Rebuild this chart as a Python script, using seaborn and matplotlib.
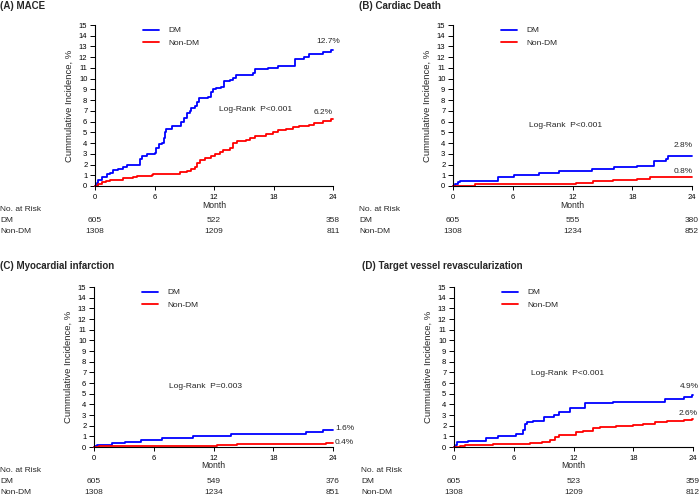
import matplotlib
matplotlib.use('Agg')
import matplotlib.pyplot as plt
import matplotlib.transforms as mtransforms
import pandas as pd
import seaborn as sns

# --- data ---------------------------------------------------------------
groups = ['DM', 'Non-DM']
risk_months = [0, 12, 24]

mace_dm_month = [0, 0.17, 0.34, 0.67, 1.17, 1.5, 1.85, 2.35, 2.85, 3.19, 4.53, 4.70, 5.2, 6.04, 6.2, 6.48,
                 6.8, 6.98, 7.1, 7.2, 7.8, 8.72, 9.0, 9.23, 9.56, 9.73, 10.07, 10.3, 10.5, 11.4, 11.7, 11.9,
                 12.2, 12.75, 12.99, 13.6, 13.9, 14.2, 15.9, 16.1, 17.45, 18.46, 20.2, 21.1, 21.6, 23.0, 23.8, 24]
mace_dm_pct = [0, 0.3, 0.6, 0.8, 1.1, 1.2, 1.5, 1.6, 1.8, 2.0, 2.5, 2.8, 3.0, 3.1, 3.5, 3.9,
               4.0, 4.5, 5.0, 5.3, 5.6, 6.0, 6.3, 6.8, 7.0, 7.3, 7.5, 7.8, 8.2, 8.3, 8.8, 9.0,
               9.1, 9.2, 9.8, 9.9, 10.1, 10.3, 10.5, 10.9, 11.0, 11.2, 11.8, 12.0, 12.3, 12.5, 12.7, 12.7]
mace_non_month = [0, 0.34, 0.67, 1.1, 1.5, 2.2, 2.85, 3.86, 4.2, 5.7, 5.87, 8.2, 8.56, 9.23, 9.73, 10.07,
                  10.3, 10.57, 11.07, 11.74, 12.08, 12.58, 12.92, 13.6, 13.93, 14.33, 15.27, 15.6, 16.1,
                  17.28, 17.95, 18.46, 19.3, 19.97, 20.6, 21.6, 22.1, 23.0, 23.8, 24]
mace_non_pct = [0, 0.2, 0.4, 0.5, 0.55, 0.6, 0.7, 0.8, 0.9, 1.0, 1.1, 1.15, 1.3, 1.4, 1.6, 1.8,
                2.1, 2.4, 2.6, 2.8, 3.0, 3.2, 3.4, 3.5, 4.0, 4.2, 4.3, 4.5, 4.7,
                4.8, 5.0, 5.2, 5.3, 5.5, 5.6, 5.7, 5.9, 6.1, 6.2, 6.2]

cd_dm_month = [0, 0.17, 0.5, 0.67, 4.53, 6.1, 8.6, 10.6, 14.0, 16.2, 18.5, 20.2, 21.4, 21.6, 24]
cd_dm_pct = [0, 0.2, 0.4, 0.5, 0.8, 1.0, 1.2, 1.4, 1.55, 1.75, 1.9, 2.3, 2.5, 2.8, 2.8]
cd_non_month = [0, 2.2, 12.4, 14.1, 14.5, 16.1, 17.8, 18.5, 19.8, 24]
cd_non_pct = [0, 0.2, 0.3, 0.45, 0.5, 0.55, 0.6, 0.65, 0.8, 0.8]

mi_dm_month = [0, 0.1, 0.3, 1.8, 3.16, 4.67, 6.86, 9.9, 13.75, 21.3, 23.0, 24]
mi_dm_pct = [0, 0.05, 0.15, 0.35, 0.5, 0.7, 0.85, 1.0, 1.2, 1.4, 1.6, 1.6]
mi_non_month = [0, 0.5, 12.4, 14.4, 16.3, 23.3, 24]
mi_non_pct = [0, 0.05, 0.15, 0.25, 0.3, 0.4, 0.4]

tvr_dm_month = [0, 0.17, 0.34, 1.4, 3.2, 4.43, 6.2, 6.9, 7.1, 7.3, 7.9, 9.0, 10.0, 10.5, 11.6,
                13.15, 16.0, 21.2, 23.05, 23.9, 24]
tvr_dm_pct = [0, 0.2, 0.5, 0.6, 0.8, 1.0, 1.2, 1.6, 2.2, 2.3, 2.4, 2.8, 3.0, 3.3, 3.7,
              4.1, 4.2, 4.5, 4.7, 4.9, 4.9]
tvr_non_month = [0, 0.6, 1.1, 3.9, 5.6, 7.6, 8.8, 9.6, 10.1, 10.5, 12.3, 13.0, 14.0, 14.7, 16.3,
                 18.0, 19.0, 20.2, 21.4, 23.05, 23.9, 24]
tvr_non_pct = [0, 0.1, 0.2, 0.25, 0.3, 0.35, 0.5, 0.7, 0.9, 1.1, 1.4, 1.5, 1.8, 1.9, 2.0,
               2.1, 2.2, 2.3, 2.4, 2.5, 2.6, 2.6]

titles = ['(A) MACE', '(B) Cardiac Death', '(C) Myocardial infarction',
          '(D) Target vessel revascularization']
logrank = ['Log-Rank  P<0.001', 'Log-Rank  P<0.001', 'Log-Rank  P=0.003', 'Log-Rank  P<0.001']
end_labels = [('12.7%', '6.2%'), ('2.8%', '0.8%'), ('1.6%', '0.4%'), ('4.9%', '2.6%')]

risk_dm = [[605, 522, 358], [605, 555, 380], [605, 549, 376], [605, 523, 359]]
risk_non = [[1308, 1209, 811], [1308, 1234, 852], [1308, 1234, 851], [1308, 1209, 812]]

curves = [
    (mace_dm_month, mace_dm_pct, mace_non_month, mace_non_pct),
    (cd_dm_month, cd_dm_pct, cd_non_month, cd_non_pct),
    (mi_dm_month, mi_dm_pct, mi_non_month, mi_non_pct),
    (tvr_dm_month, tvr_dm_pct, tvr_non_month, tvr_non_pct),
]

# --- layout (pixels in a 700x495 figure) --------------------------------
W, H = 700, 495
axes_px = [(95, 333, 25, 186), (453, 692, 25, 186), (94, 333, 287, 447), (454, 693, 287, 447)]
title_px = [(0, 6), (359, 6), (0, 266), (362, 266)]
table_x_px = [0, 359, 0, 361]
logrank_pos = [(16.2, 7.1), (11.35, 5.6), (11.2, 5.7), (11.45, 6.9)]
# (ha, dx_px, dy_px) for DM and Non-DM end labels
label_style = [
    ('right', (7, 8), (0, 6.5)),
    ('right', (1, 10), (1, 6.4)),
    ('left', (2, 1), (2, 0)),
    ('right', (6, 8), (5, 6)),
]

sns.set_theme(style='ticks')
plt.rcParams['font.family'] = ['Liberation Sans', 'DejaVu Sans']

palette = {'DM': '#0000FF', 'Non-DM': '#FF0000'}
px2pt = 0.72

fig = plt.figure(figsize=(7, 4.95), dpi=100)

for i, (dm_m, dm_p, non_m, non_p) in enumerate(curves):
    l, r, t, b = axes_px[i]
    ax = fig.add_axes([l / W, 1 - b / H, (r - l) / W, (b - t) / H])

    df = pd.concat([
        pd.DataFrame({'month': dm_m, 'pct': dm_p, 'group': 'DM'}),
        pd.DataFrame({'month': non_m, 'pct': non_p, 'group': 'Non-DM'}),
    ])
    sns.lineplot(data=df, x='month', y='pct', hue='group', hue_order=groups,
                 palette=palette, estimator=None, drawstyle='steps-post',
                 linewidth=1.3, ax=ax, clip_on=False)

    ax.set_xlim(0, 24)
    ax.set_ylim(0, 15)
    ax.set_xticks([0, 6, 12, 18, 24])
    ax.set_yticks(range(16))
    ax.tick_params(labelsize=5.5, width=0.7, colors='black')
    ax.tick_params(axis='x', length=3, pad=3)
    ax.tick_params(axis='y', length=3.6, pad=1.9)
    for side in ['left', 'bottom']:
        ax.spines[side].set_linewidth(0.8)
        ax.spines[side].set_color('black')
    sns.despine(ax=ax)

    ax.set_xlabel('Month', fontsize=6.2, labelpad=-0.6)
    ax.set_ylabel('Cummulative Incidence, %', fontsize=6.8, labelpad=3.5)

    leg = ax.legend(loc='upper left', bbox_to_anchor=(0.2, 0.99), frameon=False,
                    fontsize=6, handlelength=2.0, handletextpad=1.05, labelspacing=0.55,
                    borderpad=0, borderaxespad=0, title=None)
    for line in leg.get_lines():
        line.set_linewidth(1.3)

    lx, ly = logrank_pos[i]
    ax.text(lx, ly, logrank[i], fontsize=6, ha='center', va='center')

    ha, off_dm, off_non = label_style[i]
    for m, p, lab, off in [(dm_m, dm_p, end_labels[i][0], off_dm),
                           (non_m, non_p, end_labels[i][1], off_non)]:
        ax.annotate(lab, xy=(m[-1], p[-1]), xytext=(off[0] * px2pt, off[1] * px2pt),
                    textcoords='offset points', ha=ha, va='center', fontsize=6,
                    annotation_clip=False)

    tx, ty = title_px[i]
    fig.text(tx / W, 1 - ty / H, titles[i], fontsize=7, fontweight='bold',
             ha='left', va='center')

    # risk table below each panel
    trans_lab = mtransforms.blended_transform_factory(fig.transFigure, ax.transAxes)
    trans_num = ax.get_xaxis_transform()
    rows = [('No. at Risk', None), ('DM', risk_dm[i]), ('Non-DM', risk_non[i])]
    row_y = [-0.148, -0.216, -0.284]
    for (name, nums), yy in zip(rows, row_y):
        ax.text(table_x_px[i] / W, yy, name, transform=trans_lab, fontsize=6,
                ha='left', va='center')
        if nums is not None:
            for mo, n in zip(risk_months, nums):
                ax.text(mo, yy, str(n), transform=trans_num, fontsize=6,
                        ha='center', va='center')

fig.savefig('out.png', dpi=100)
plt.close(fig)
